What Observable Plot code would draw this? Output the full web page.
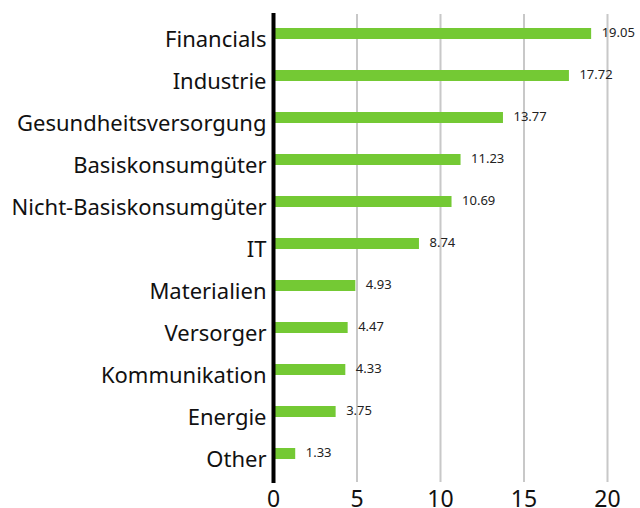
<!DOCTYPE html>
<html><head><meta charset="utf-8">
<script src="https://cdn.jsdelivr.net/npm/d3@7"></script>
<script src="https://cdn.jsdelivr.net/npm/@observablehq/plot@0.6"></script>
<style>body{margin:0;background:#fff}</style>
</head><body><div id="chart"></div>
<script>
const sectors = ["Financials","Industrie","Gesundheitsversorgung","Basiskonsumgüter","Nicht-Basiskonsumgüter","IT","Materialien","Versorger","Kommunikation","Energie","Other"];
const weights = [19.05,17.72,13.77,11.23,10.69,8.74,4.93,4.47,4.33,3.75,1.33];
const xTicks = [0,5,10,15,20];
const data = sectors.map((s,i)=>({sector:s, value:weights[i]}));

const chart = Plot.plot({
  width: 640, height: 508,
  marginLeft: 273, marginRight: 33, marginTop: 10, marginBottom: 31.5,
  style: {fontFamily: "Noto Sans", background: "#fff", color: "#111"},
  x: {domain: [0,20], ticks: xTicks},
  y: {domain: sectors, paddingInner: 0.74, paddingOuter: 0.37, align: 0.5},
  marks: [
    Plot.ruleX(xTicks.slice(1), {stroke: "#c8c8c8", strokeWidth: 2, insetTop: 4, insetBottom: -5.5}),
    Plot.barX(data, {x: "value", y: "sector", fill: "#74c934"}),
    Plot.text(data, {x: "value", y: "sector", text: d => d.value.toFixed(2), textAnchor: "start", dx: 10, dy: -1, fontSize: 13, fill: "#222"}),
    Plot.ruleX([0], {stroke: "#000", strokeWidth: 4, insetTop: 3, insetBottom: -6.5}),
    Plot.axisY({tickSize: 0, tickPadding: 7, dy: 6, fontSize: 22, label: null}),
    Plot.axisX({ticks: xTicks, tickSize: 0, tickPadding: 14, fontSize: 23, label: null})
  ]
});
document.getElementById("chart").append(chart);
</script></body></html>
